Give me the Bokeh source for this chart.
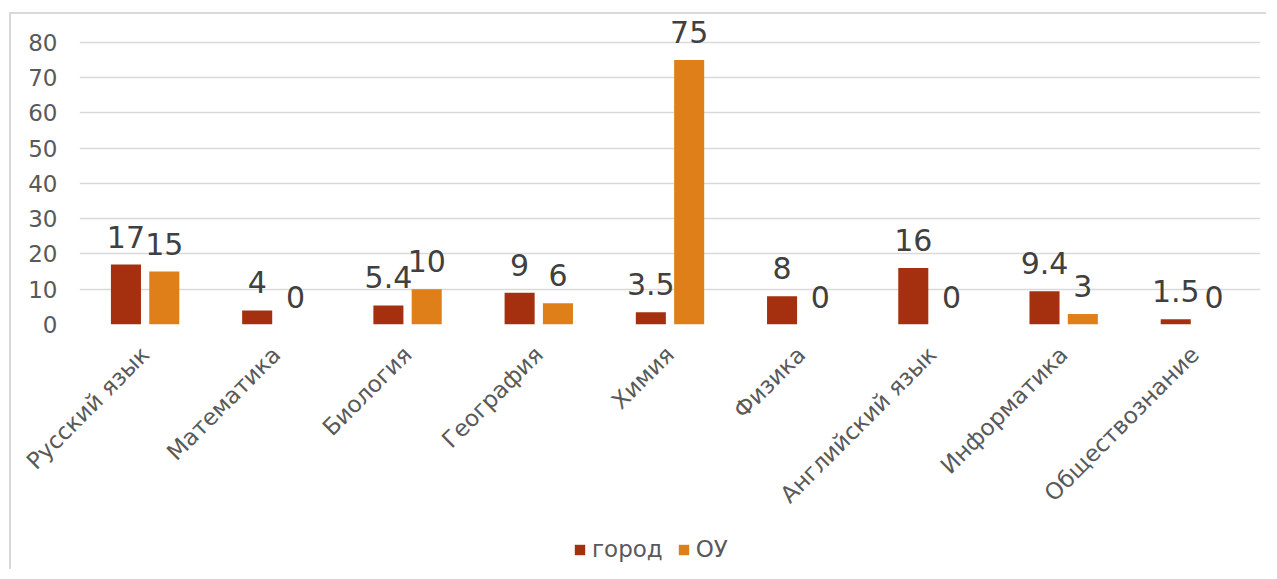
import math
from bokeh.plotting import figure
from bokeh.layouts import column
from bokeh.models import FactorRange, Range1d, ColumnDataSource, FixedTicker, Legend, LegendItem
from bokeh.transform import dodge
from bokeh.core.properties import value
from bokeh.embed import file_html
from bokeh.resources import INLINE

categories = ["Русский язык", "Математика", "Биология", "География", "Химия",
              "Физика", "Английский язык", "Информатика", "Обществознание"]
gorod = [17, 4, 5.4, 9, 3.5, 8, 16, 9.4, 1.5]
ou = [15, 0, 10, 6, 75, 0, 0, 3, 0]
series_names = ["город", "ОУ"]
y_ticks = [0, 10, 20, 30, 40, 50, 60, 70, 80]

COL_G = "#A5300F"
COL_O = "#DF7F19"
FONT = "DejaVu Sans"
TXT = "#595959"

src = ColumnDataSource(dict(
    cat=categories,
    gorod=gorod,
    ou=ou,
    gorod_lbl=[f"{v:g}" for v in gorod],
    ou_lbl=[f"{v:g}" for v in ou],
))

p = figure(x_range=FactorRange(factors=categories), y_range=Range1d(0, 87.94),
           frame_width=1181, frame_height=310, output_backend="svg", toolbar_location=None,
           min_border_left=68, min_border_right=6, min_border_top=0, min_border_bottom=200)
p.outline_line_color = None
p.background_fill_color = "white"
p.border_fill_color = "white"

bw = 0.229
off = 0.146
r1 = p.vbar(x=dodge("cat", -off, range=p.x_range), top="gorod", width=bw, source=src,
            fill_color=COL_G, line_color=None)
r2 = p.vbar(x=dodge("cat", off, range=p.x_range), top="ou", width=bw, source=src,
            fill_color=COL_O, line_color=None)

p.text(x=dodge("cat", -off, range=p.x_range), y="gorod", text="gorod_lbl", source=src,
       text_align="center", text_baseline="alphabetic", y_offset=-28,
       text_font=value(FONT), text_font_size="30px", text_color="#404040")
p.text(x=dodge("cat", off, range=p.x_range), y="ou", text="ou_lbl", source=src,
       text_align="center", text_baseline="alphabetic", y_offset=-28,
       text_font=value(FONT), text_font_size="30px", text_color="#404040")

p.xgrid.grid_line_color = None
p.ygrid.grid_line_color = "#d9d9d9"
p.ygrid.grid_line_width = 1.6
p.yaxis.ticker = FixedTicker(ticks=y_ticks)

for ax in (p.xaxis, p.yaxis):
    ax.axis_line_color = None
    ax.major_tick_line_color = None
    ax.minor_tick_line_color = None
    ax.major_label_text_font = FONT
    ax.major_label_text_color = TXT
    ax.major_label_text_font_size = "23px"

p.yaxis.major_label_standoff = 16
p.xaxis.major_label_standoff = 20
p.xaxis.major_label_orientation = math.pi / 4

# legend strip below the chart
leg = figure(width=1255, height=45, output_backend="svg", toolbar_location=None,
             x_range=Range1d(0, 1), y_range=Range1d(0, 1),
             min_border=0, x_axis_type=None, y_axis_type=None)
leg.outline_line_color = None
leg.xgrid.grid_line_color = None
leg.ygrid.grid_line_color = None
lr1 = leg.vbar(x=[0], top=[0], width=0, fill_color=COL_G, line_color=None)
lr2 = leg.vbar(x=[0], top=[0], width=0, fill_color=COL_O, line_color=None)
legend = Legend(items=[LegendItem(label=series_names[0], renderers=[lr1]),
                       LegendItem(label=series_names[1], renderers=[lr2])],
                location=(494, 7), orientation="horizontal",
                glyph_width=13, glyph_height=13, label_standoff=6, spacing=14,
                padding=0, margin=0, border_line_color=None, background_fill_alpha=0,
                label_text_font=FONT, label_text_font_size="23px", label_text_color=TXT,
                label_height=22)
leg.add_layout(legend, "center")

layout = column(p, leg, spacing=0)
layout.styles = {"border-top": "2px solid #d9d9d9", "border-left": "2px solid #d9d9d9",
                 "margin-top": "12px", "margin-left": "9px"}

open("out.html", "w").write(file_html(layout, INLINE))
